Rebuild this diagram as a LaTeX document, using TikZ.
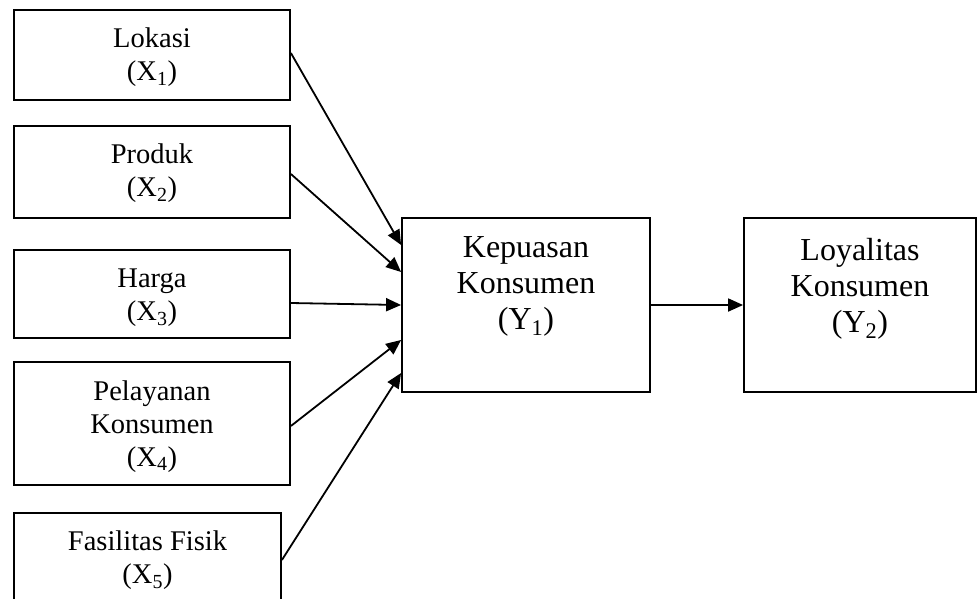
\documentclass[tikz,border=0pt]{standalone}
\usepackage{fontspec}
\setmainfont{Liberation Serif}
\usetikzlibrary{arrows.meta}
\begin{document}
\begin{tikzpicture}[x=1pt,y=-1pt,
  box/.style={draw, line width=1.8pt, inner sep=0pt, rectangle},
  lbl/.style={anchor=north, inner sep=0pt, align=center, font=\fontsize{28.5}{33}\selectfont},
  lblbig/.style={anchor=north, inner sep=0pt, align=center, font=\fontsize{32}{36}\selectfont},
  arr/.style={line width=1.8pt, -{Triangle[length=15pt,width=13pt]}}]
\clip (0,0) rectangle (978,598);
% boxes
\node[box, minimum width=276pt, minimum height=90pt]  (b1) at (152,55) {};
\node[box, minimum width=276pt, minimum height=92pt]  (b2) at (152,172) {};
\node[box, minimum width=276pt, minimum height=88pt]  (b3) at (152,294) {};
\node[box, minimum width=276pt, minimum height=123pt] (b4) at (152,423.5) {};
\node[box, minimum width=267pt, minimum height=127pt] (b5) at (147.5,576.5) {};
\node[box, minimum width=248pt, minimum height=174pt] (k)  at (526,305) {};
\node[box, minimum width=232pt, minimum height=174pt] (l) at (860,305) {};
% texts
\node[lbl] (t1) at (152,24.6) {\strut Lokasi\\(X\textsubscript{1})};
\node[lbl] (t2) at (152,140.6) {\strut Produk\\(X\textsubscript{2})};
\node[lbl] (t3) at (152,264.6) {\strut Harga\\(X\textsubscript{3})};
\node[lbl] (t4) at (152,376.9) {\strut Pelayanan\\Konsumen\\(X\textsubscript{4})};
\node[lbl] (t5) at (147.5,527.6) {\strut Fasilitas Fisik\\(X\textsubscript{5})};
\node[lblbig] (tk) at (526,231.8) {\strut Kepuasan\\Konsumen\\(Y\textsubscript{1})};
\node[lblbig] (tl) at (860,234.8) {\strut Loyalitas\\Konsumen\\(Y\textsubscript{2})};
% connectors
\draw[arr] ([yshift=2pt]b1.east) -- ([yshift=60pt]k.west);
\draw[arr] ([yshift=-2pt]b2.east) -- ([yshift=33pt]k.west);
\draw[arr] ([yshift=-9pt]b3.east) -- (k.west);
\draw[arr] ([yshift=-2.5pt]b4.east) -- ([yshift=-35pt]k.west);
\draw[arr] ([yshift=16.5pt]b5.east) -- ([yshift=-68pt]k.west);
\draw[arr] (k.east) -- (l.west);
\end{tikzpicture}
\end{document}
